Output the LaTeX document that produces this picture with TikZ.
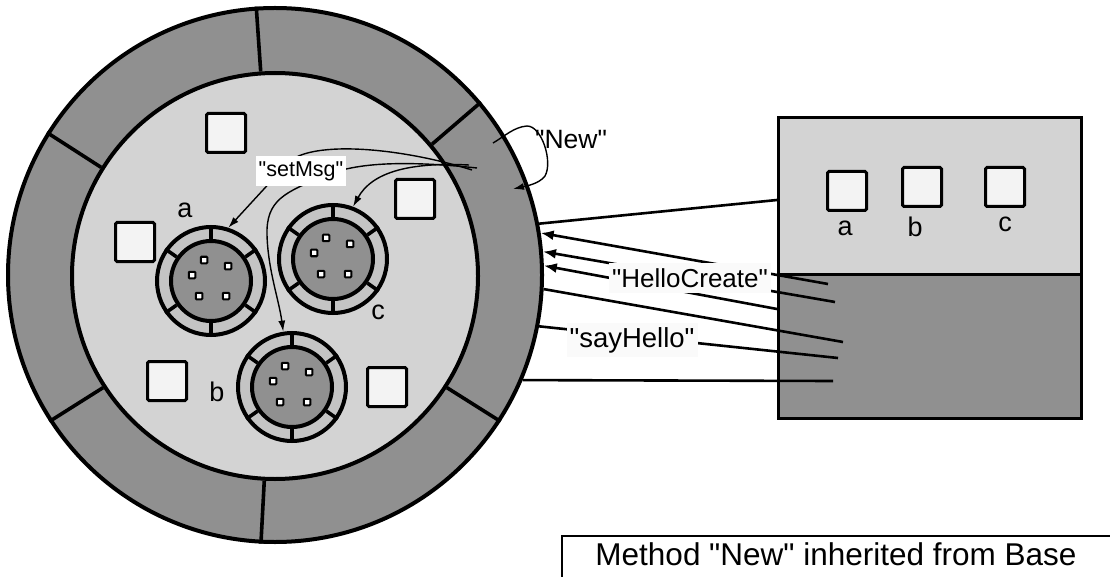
\documentclass[tikz,border=0pt]{standalone}
\usepackage{fontspec}
\setmainfont{Liberation Sans}[Ligatures=TeXOff]
\usetikzlibrary{arrows.meta}

\definecolor{ringdark}{RGB}{144,144,144}
\definecolor{discpale}{RGB}{211,211,211}
\definecolor{unitpale}{RGB}{196,196,196}
\definecolor{cellpale}{RGB}{243,243,243}
\definecolor{labelbg}{RGB}{250,250,250}

\tikzset{
  cell/.style={draw, fill=cellpale, line width=3pt, minimum size=39pt, inner sep=0pt, rounded corners=1.5pt},
  pinsq/.style={draw, fill=white, line width=2pt, minimum size=6.5pt, inner sep=0pt, rounded corners=0.8pt},
  unitring/.style={draw, circle, fill=unitpale, line width=4pt, minimum size=108pt, inner sep=0pt},
  unitdisc/.style={draw, circle, fill=ringdark, line width=4pt, minimum size=80pt, inner sep=0pt},
  divider/.style={line width=3.6pt},
  wire/.style={line width=2.6pt},
  wirearrow/.style={line width=2.6pt, -{Latex[length=13pt,width=10pt]}},
  thin/.style={line width=1.4pt},
  thinarrow/.style={line width=1.4pt, -{Latex[length=11pt,width=7pt]}},
  letter/.style={font=\fontsize{27}{30}\selectfont, inner sep=0pt},
  tag/.style={inner sep=3pt, font=\fontsize{26}{28}\selectfont}
}

% one embedded unit: outer ring, six ring cells, inner disc and five pins
\newcommand\drawunit[2]{%
  \node[unitring] (#1) at (#2) {};
  \node[unitdisc] (#1d) at (#2) {};
  \foreach \ang in {90,35,145,215,325,270}
    \draw[divider] (#1d.\ang) -- (#1.\ang);
  \begin{scope}[shift={(#2)}]
    \foreach \dx/\dy [count=\k] in {-7/-21,17/-15,-19/-6,-12/15,15/15}
      \node[pinsq] (#1p\k) at (\dx,\dy) {};
  \end{scope}
}

\begin{document}
\begin{tikzpicture}[x=1pt, y=-1pt]
\useasboundingbox (0,0) rectangle (1110,577);

% ---- the object: outer ring of methods and inner body
\node[draw, circle, fill=ringdark, line width=4pt, minimum size=534pt, inner sep=0pt] (outer) at (275,275) {};
\node[draw, circle, fill=discpale, line width=4pt, minimum size=406pt, inner sep=0pt] (inner) at (275,276) {};
\foreach \ang in {94,148,40,213,-33,267}
  \draw[divider] (inner.\ang) -- (outer.\ang);

% ---- data cells of the body
\node[cell] (q1) at (226,133) {};
\node[cell] (q2) at (135,242) {};
\node[cell] (q3) at (415,199) {};
\node[cell] (q4) at (167,381) {};
\node[cell] (q5) at (387,387) {};

% ---- embedded units a, b, c
\drawunit{ua}{211,281}
\drawunit{uc}{333,259}
\drawunit{ub}{292,387}
\node[letter] (la) at (185,210) {a};
\node[letter] (lc) at (378,312) {c};
\node[letter] (lb) at (217,392) {b};

% ---- class box on the right
\node[draw, fill=discpale, line width=3pt, minimum width=303pt, minimum height=157pt, inner sep=0pt, anchor=north west] (classtop) at (777,116) {};
\node[draw, fill=ringdark, line width=3pt, minimum width=303pt, minimum height=144pt, inner sep=0pt, anchor=north west] (classbot) at (777,273) {};
\node[cell] (ca) at (847,191) {};
\node[cell] (cb) at (922,187) {};
\node[cell] (cc) at (1005,187) {};
\node[letter] (lca) at (845,228) {a};
\node[letter] (lcb) at (915,227) {b};
\node[letter] (lcc) at (1005,224) {c};

% ---- wires between the class and the object
\coordinate (w1) at (777,200);
\coordinate (w2) at (828,284);
\coordinate (w3) at (835,302);
\coordinate (w4) at (777,309);
\coordinate (w5) at (843,342);
\coordinate (w6) at (838,358);
\coordinate (w7) at (833,381);
\draw[wire] (w1) -- (outer.11);
\draw[wirearrow] (w2) -- (outer.9);
\draw[wirearrow] (w3) -- (outer.5);
\draw[wirearrow] (w4) -- (outer.2);
\draw[wire] (w5) -- (outer.-3);
\draw[wire] (w6) -- (outer.-11);
\draw[wire] (w7) -- (outer.-23);
\node[tag, fill=labelbg, minimum height=30pt] (hello) at (690,278) {"HelloCreate"};
\node[tag, fill=labelbg, minimum height=34pt, font=\fontsize{27.5}{30}\selectfont] (say) at (632,340) {"sayHello"};

% ---- "New" method calling itself
\coordinate (nsrc) at (493,143);
\coordinate (ntip) at (513,189);
\draw[thinarrow] (nsrc) .. controls (505,136) and (514,127) .. (527,126)
  .. controls (542,126) and (553,162) .. (545,176)
  .. controls (539,184) and (526,186) .. (ntip);
\node[font=\fontsize{26.5}{28}\selectfont, inner sep=0pt] (new) at (571,140) {"New"};

% ---- setMsg dispatch to the embedded units
\coordinate (sa) at (472,170);
\coordinate (sb) at (477,168);
\coordinate (sc) at (469,165);
\draw[thinarrow] (sa) .. controls (395,146) and (305,140) .. (286,165) -- (ua.72);
\draw[thinarrow] (sb) .. controls (420,162) and (360,160) .. (325,176)
  .. controls (285,192) and (266,200) .. (267,235)
  .. controls (268,270) and (279,300) .. (ub.99);
\draw[thinarrow] (sc) .. controls (410,162) and (372,172) .. (uc.69);
\node[fill=white, inner sep=3pt, minimum height=30pt, font=\fontsize{21.5}{24}\selectfont] (setmsg) at (301,171) {"setMsg"};

% ---- caption
\coordinate (capa) at (562,577);
\coordinate (capb) at (562,536);
\coordinate (capc) at (1110,536);
\draw[line width=1.8pt] (capa) -- (capb) -- (capc);
\node[anchor=base, inner sep=0pt, font=\fontsize{31.5}{34}\selectfont] (caption) at (836,565) {Method "New" inherited from Base};
\end{tikzpicture}
\end{document}
